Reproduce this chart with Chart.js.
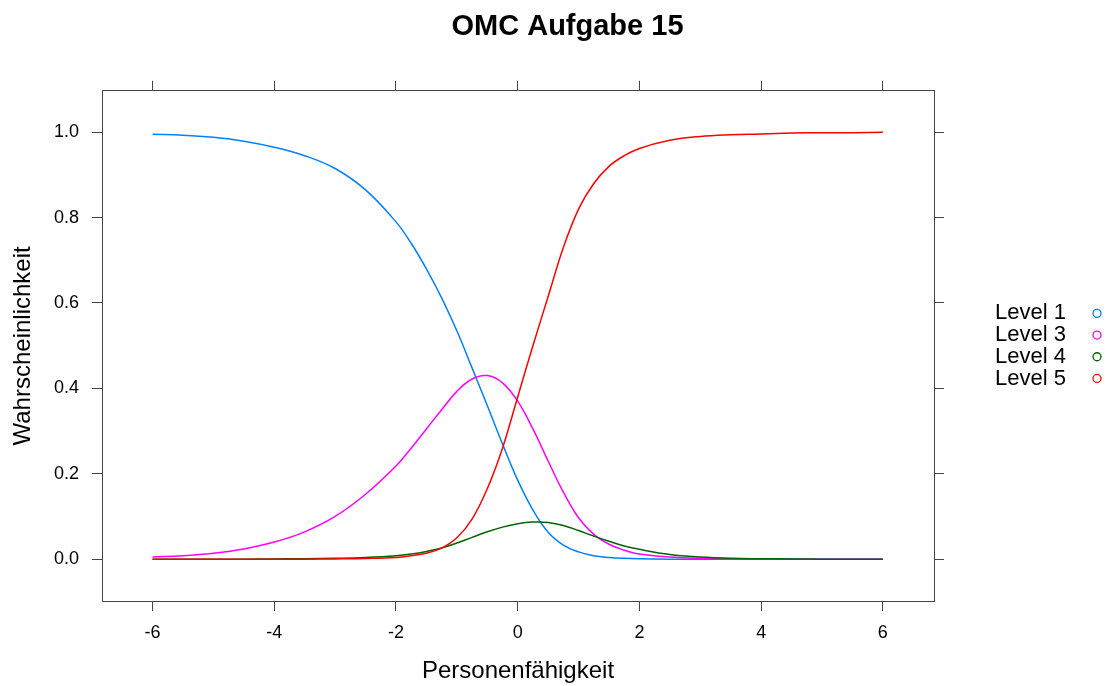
<!DOCTYPE html>
<html lang="de">
  <head>
    <meta charset="UTF-8" />
    <title>OMC Aufgabe 15</title>
    <script src="https://cdn.jsdelivr.net/npm/chart.js@4.4.1/dist/chart.umd.min.js"></script>
    <style>
      html, body {
        margin: 0;
        padding: 0;
        background: #ffffff;
      }
      .chart-container {
        width: 1111px;
        height: 686px;
      }
    </style>
  </head>
  <body>
    <div class="chart-container">
      <canvas id="myChart"></canvas>
    </div>

    <script>
      // Werte
      const xs = [-6, -5.5, -5, -4.5, -4, -3.5, -3, -2.5, -2, -1.75, -1.5, -1.25, -1, -0.75, -0.5, -0.25,
                  0, 0.25, 0.5, 0.75, 1, 1.25, 1.5, 1.75, 2, 2.5, 3, 3.5, 4, 4.5, 5, 5.5, 6];

      const level1 = [0.995, 0.993, 0.988, 0.979, 0.965, 0.945, 0.915, 0.865, 0.79, 0.74, 0.68, 0.612, 0.535, 0.448, 0.36, 0.27,
                      0.185, 0.115, 0.063, 0.033, 0.017, 0.008, 0.004, 0.002, 0.001, 0, 0, 0, 0, 0, 0, 0, 0];
      const level3 = [0.005, 0.008, 0.014, 0.024, 0.04, 0.064, 0.1, 0.152, 0.218, 0.26, 0.305, 0.35, 0.393, 0.422, 0.43, 0.413,
                      0.37, 0.305, 0.23, 0.157, 0.097, 0.058, 0.035, 0.021, 0.012, 0.005, 0.002, 0.001, 0, 0, 0, 0, 0];
      const level4 = [0, 0, 0, 0, 0.0005, 0.001, 0.002, 0.004, 0.008, 0.012, 0.018, 0.026, 0.038, 0.051, 0.064, 0.075,
                      0.083, 0.087, 0.086, 0.079, 0.067, 0.054, 0.042, 0.031, 0.023, 0.011, 0.005, 0.002, 0.001, 0.0005, 0, 0, 0];
      const level5 = [0, 0, 0, 0, 0, 0, 0.0005, 0.0015, 0.004, 0.008, 0.014, 0.026, 0.05, 0.094, 0.165, 0.26,
                      0.38, 0.5, 0.615, 0.73, 0.82, 0.88, 0.92, 0.945, 0.962, 0.981, 0.99, 0.994, 0.996, 0.998, 0.999, 0.999, 1.0];

      const seriesNames = ["Level 1", "Level 3", "Level 4", "Level 5"];
      const seriesColors = ["#0080ff", "#ff00ff", "#006400", "#ff0000"];
      const xTicks = [-6, -4, -2, 0, 2, 4, 6];
      const yTicks = [0, 0.2, 0.4, 0.6, 0.8, 1.0];

      const FONT = "'Liberation Sans', Arial, Helvetica, sans-serif";
      const FRAME = "#444444";

      function toPoints(ys) {
        return xs.map(function (x, i) {
          return { x: x, y: ys[i] };
        });
      }

      const allSeries = [level1, level3, level4, level5];
      const datasets = allSeries.map(function (ys, i) {
        return {
          label: seriesNames[i],
          data: toPoints(ys),
          borderColor: seriesColors[i],
          backgroundColor: seriesColors[i],
          borderWidth: 1.5,
          pointRadius: 0,
          fill: false,
          tension: 0.4,
          order: allSeries.length - i, // Level 5 oben
        };
      });

      // Legende rechts: Text links, Kreis rechts (wie lattice)
      const sideLegend = {
        id: "sideLegend",
        afterLayout(chart) {
          // Titel etwas nach rechts, wie im Original
          if (chart.titleBlock) chart.titleBlock.left += 24;
        },
        afterDraw(chart) {
          const ctx = chart.ctx;
          const area = chart.chartArea;
          const midY = (area.top + area.bottom) / 2;
          const step = 21.7;
          ctx.save();
          ctx.font = "22px " + FONT;
          ctx.textBaseline = "middle";
          ctx.textAlign = "left";
          seriesNames.forEach(function (name, i) {
            const y = midY + (i - (seriesNames.length - 1) / 2) * step;
            ctx.fillStyle = "#000000";
            ctx.fillText(name, area.right + 61, y);
            ctx.beginPath();
            ctx.arc(area.right + 163, y, 4, 0, Math.PI * 2);
            ctx.strokeStyle = seriesColors[i];
            ctx.lineWidth = 1.3;
            ctx.stroke();
          });
          ctx.restore();
        },
      };

      function fixedTicks(values) {
        return function (scale) {
          scale.ticks = values.map(function (v) {
            return { value: v };
          });
        };
      }

      const xRange = { min: -6.83, max: 6.84 };
      const yRange = { min: -0.098, max: 1.097 };

      const tickFont = { family: FONT, size: 18 };
      const gridOpts = {
        display: true,
        drawOnChartArea: false,
        drawTicks: true,
        tickLength: 10,
        tickColor: FRAME,
        color: FRAME,
      };
      const borderOpts = { display: true, color: FRAME, width: 1 };

      const ctx = document.getElementById("myChart").getContext("2d");
      const myChart = new Chart(ctx, {
        type: "line",
        data: { datasets: datasets },
        options: {
          responsive: true,
          maintainAspectRatio: false,
          animation: false,
          layout: { padding: 0 },
          scales: {
            x: {
              type: "linear",
              position: "bottom",
              min: xRange.min,
              max: xRange.max,
              afterBuildTicks: fixedTicks(xTicks),
              afterFit(scale) { scale.height = 85; },
              grid: gridOpts,
              border: borderOpts,
              ticks: { color: "#000", font: tickFont, padding: 11, maxRotation: 0 },
              title: {
                display: true,
                text: "Personenfähigkeit",
                color: "#000",
                font: { family: FONT, size: 24 },
                padding: { top: 0, bottom: 0 },
              },
            },
            x2: {
              type: "linear",
              position: "top",
              min: xRange.min,
              max: xRange.max,
              afterBuildTicks: fixedTicks(xTicks),
              afterFit(scale) { scale.height = 46; },
              grid: gridOpts,
              border: borderOpts,
              ticks: { display: false },
            },
            y: {
              type: "linear",
              position: "left",
              min: yRange.min,
              max: yRange.max,
              afterBuildTicks: fixedTicks(yTicks),
              afterFit(scale) { scale.width = 102; },
              grid: gridOpts,
              border: borderOpts,
              ticks: {
                color: "#000",
                font: tickFont,
                padding: 13,
                callback: function (v) { return v.toFixed(1); },
              },
              title: {
                display: true,
                text: "Wahrscheinlichkeit",
                color: "#000",
                font: { family: FONT, size: 24 },
                padding: { top: 9, bottom: 0 },
              },
            },
            y2: {
              type: "linear",
              position: "right",
              min: yRange.min,
              max: yRange.max,
              afterBuildTicks: fixedTicks(yTicks),
              afterFit(scale) { scale.width = 177; },
              grid: gridOpts,
              border: borderOpts,
              ticks: { display: false },
            },
          },
          plugins: {
            legend: { display: false },
            tooltip: { enabled: false },
            title: {
              display: true,
              text: "OMC Aufgabe 15",
              color: "#000",
              font: { family: FONT, size: 29, weight: "bold", lineHeight: 1.2 },
              padding: { top: 10, bottom: 0 },
            },
          },
        },
        plugins: [sideLegend],
      });
    </script>
  </body>
</html>
